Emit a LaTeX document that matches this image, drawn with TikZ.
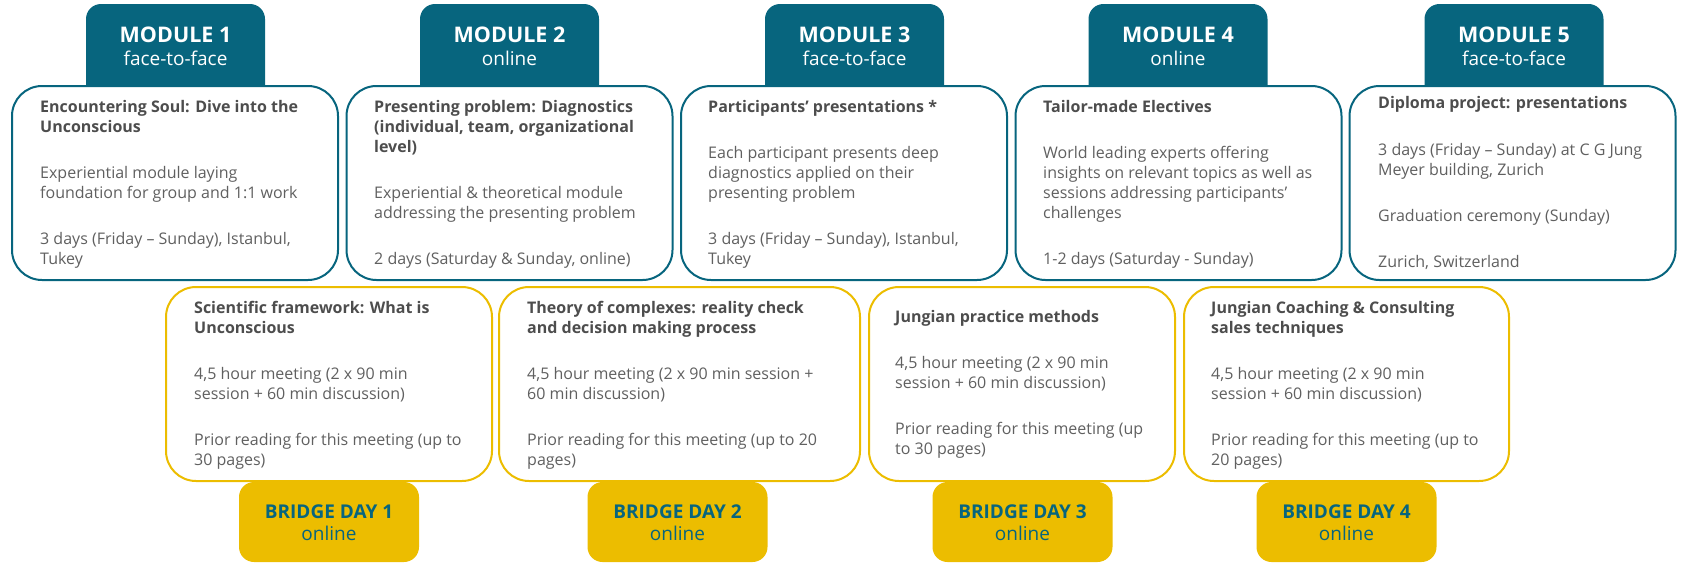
\documentclass[tikz,border=0pt]{standalone}
\usepackage{fontspec}
\setmainfont{Open Sans}
\definecolor{teal1}{HTML}{07657E}
\definecolor{gold}{HTML}{ECBD00}
\definecolor{ttl}{HTML}{4D4D4D}
\definecolor{bdy}{HTML}{606060}
\tikzset{
  modhead/.style={fill=teal1, rounded corners=15pt, minimum width=179pt, minimum height=106pt, inner sep=0},
  modbox/.style={draw=teal1, fill=white, line width=2pt, rounded corners=30pt, minimum width=326pt, minimum height=194pt, inner sep=0},
  ybox/.style={draw=gold, fill=white, line width=2pt, rounded corners=30pt, minimum height=194pt, inner sep=0},
  bhead/.style={fill=gold, rounded corners=15pt, minimum width=180pt, minimum height=80pt, inner sep=0},
  txt/.style={anchor=north west, inner sep=0, align=left, text=bdy, font=\fontsize{16}{20}\selectfont},
  mtitle/.style={anchor=base, inner sep=0, text=white, font=\fontsize{21.5}{24}\selectfont\bfseries},
  msub/.style={anchor=base, inner sep=0, text=white, font=\fontsize{19}{22}\selectfont},
  btitle/.style={anchor=base, inner sep=0, text=teal1, font=\fontsize{19}{22}\selectfont\bfseries},
  bsub/.style={anchor=base, inner sep=0, text=teal1, font=\fontsize{19}{22}\selectfont},
}
\newcommand{\tl}[1]{\textcolor{ttl}{\bfseries #1}}
\newcommand{\st}{\rule{0pt}{15pt}}
\begin{document}
\begin{tikzpicture}[x=1pt,y=-1pt]
\useasboundingbox (0,0) rectangle (1683,562);
% module headers
\node[modhead] (h1) at (175.5,57) {};
\node[modhead] (h2) at (509.5,57) {};
\node[modhead] (h3) at (854.5,57) {};
\node[modhead] (h4) at (1178,57) {};
\node[modhead] (h5) at (1514,57) {};
\node[mtitle] (h1t) at (175.5,42) {MODULE 1};
\node[msub] (h1s) at (175.5,65) {face-to-face};
\node[mtitle] (h2t) at (509.5,42) {MODULE 2};
\node[msub] (h2s) at (509.5,65) {online};
\node[mtitle] (h3t) at (854.5,42) {MODULE 3};
\node[msub] (h3s) at (854.5,65) {face-to-face};
\node[mtitle] (h4t) at (1178,42) {MODULE 4};
\node[msub] (h4s) at (1178,65) {online};
\node[mtitle] (h5t) at (1514,42) {MODULE 5};
\node[msub] (h5s) at (1514,65) {face-to-face};
% module boxes
\node[modbox] (b1) at (175,183) {};
\node[modbox] (b2) at (509.5,183) {};
\node[modbox] (b3) at (844,183) {};
\node[modbox] (b4) at (1178.5,183) {};
\node[modbox] (b5) at (1512.5,183) {};
\node[txt] (b1t) at (40,97) {\st\tl{Encountering Soul: Dive into the}\\\tl{Unconscious}\\[26pt]
Experiential module laying\\foundation for group and 1:1 work\\[26pt]
3 days (Friday – Sunday), Istanbul,\\Tukey};
\node[txt] (b2t) at (374,97) {\st\tl{Presenting problem: Diagnostics}\\\tl{(individual, team, organizational}\\\tl{level)}\\[26pt]
Experiential \& theoretical module\\addressing the presenting problem\\[26pt]
2 days (Saturday \& Sunday, online)};
\node[txt] (b3t) at (708,97) {\st\tl{Participants’ presentations *}\\[26pt]
Each participant presents deep\\diagnostics applied on their\\presenting problem\\[26pt]
3 days (Friday – Sunday), Istanbul,\\Tukey};
\node[txt] (b4t) at (1043,97) {\st\tl{Tailor-made Electives}\\[26pt]
World leading experts offering\\insights on relevant topics as well as\\sessions addressing participants’\\challenges\\[26pt]
1-2 days (Saturday - Sunday)};
\node[txt] (b5t) at (1378,93) {\st\tl{Diploma project: presentations}\\[27pt]
3 days (Friday – Sunday) at C G Jung\\Meyer building, Zurich\\[26pt]
Graduation ceremony (Sunday)\\[26pt]
Zurich, Switzerland};
% bridge headers
\node[bhead] (d1) at (329,522) {};
\node[bhead] (d2) at (677.5,522) {};
\node[bhead] (d3) at (1022.5,522) {};
\node[bhead] (d4) at (1346.5,522) {};
\node[btitle] (d1t) at (329,518) {BRIDGE DAY 1};
\node[bsub] (d1s) at (329,540) {online};
\node[btitle] (d2t) at (677.5,518) {BRIDGE DAY 2};
\node[bsub] (d2s) at (677.5,540) {online};
\node[btitle] (d3t) at (1022.5,518) {BRIDGE DAY 3};
\node[bsub] (d3s) at (1022.5,540) {online};
\node[btitle] (d4t) at (1346.5,518) {BRIDGE DAY 4};
\node[bsub] (d4s) at (1346.5,540) {online};
% bridge boxes
\node[ybox, minimum width=326pt] (y1) at (329,384) {};
\node[ybox, minimum width=361pt] (y2) at (679.5,384) {};
\node[ybox, minimum width=306pt] (y3) at (1022,384) {};
\node[ybox, minimum width=325pt] (y4) at (1346.5,384) {};
\node[txt] (y1t) at (194,298) {\st\tl{Scientific framework: What is}\\\tl{Unconscious}\\[26pt]
4,5 hour meeting (2 x 90 min\\session + 60 min discussion)\\[26pt]
Prior reading for this meeting (up to\\30 pages)};
\node[txt] (y2t) at (527,298) {\st\tl{Theory of complexes: reality check}\\\tl{and decision making process}\\[26pt]
4,5 hour meeting (2 x 90 min session +\\60 min discussion)\\[26pt]
Prior reading for this meeting (up to 20\\pages)};
\node[txt] (y3t) at (895,307) {\st\tl{Jungian practice methods}\\[26pt]
4,5 hour meeting (2 x 90 min\\session + 60 min discussion)\\[26pt]
Prior reading for this meeting (up\\to 30 pages)};
\node[txt] (y4t) at (1211,298) {\st\tl{Jungian Coaching \& Consulting}\\\tl{sales techniques}\\[26pt]
4,5 hour meeting (2 x 90 min\\session + 60 min discussion)\\[26pt]
Prior reading for this meeting (up to\\20 pages)};
\end{tikzpicture}
\end{document}
